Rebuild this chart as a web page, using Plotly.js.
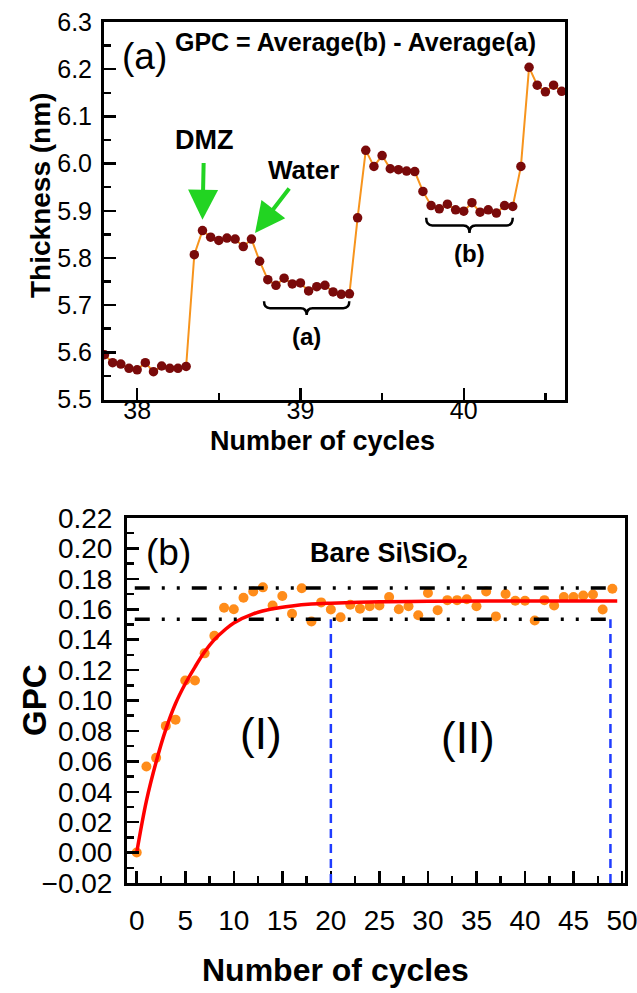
<!DOCTYPE html>
<html>
<head>
<meta charset="utf-8">
<script src="https://cdn.plot.ly/plotly-3.0.1.min.js"></script>
<style>
html,body{margin:0;padding:0;background:#fff;}
#chart{width:637px;height:993px;}
</style>
</head>
<body>
<div id="chart"></div>
<script>
// ---------- Panel (a): thickness vs number of cycles ----------
const cyclesA = [37.80, 37.85, 37.90, 37.95, 38.00, 38.05, 38.10, 38.15, 38.20, 38.25,
  38.30, 38.35, 38.40, 38.45, 38.50, 38.55, 38.60, 38.65, 38.70, 38.75,
  38.80, 38.85, 38.90, 38.95, 39.00, 39.05, 39.10, 39.15, 39.20, 39.25,
  39.30, 39.35, 39.40, 39.45, 39.50, 39.55, 39.60, 39.65, 39.70, 39.75,
  39.80, 39.85, 39.90, 39.95, 40.00, 40.05, 40.10, 40.15, 40.20, 40.25,
  40.30, 40.35, 40.40, 40.45, 40.50, 40.55, 40.60];
const thicknessA = [5.595, 5.578, 5.575, 5.566, 5.563, 5.578, 5.559, 5.571, 5.566, 5.566,
  5.570, 5.807, 5.858, 5.844, 5.837, 5.842, 5.840, 5.824, 5.840, 5.793,
  5.754, 5.742, 5.757, 5.745, 5.747, 5.730, 5.739, 5.742, 5.728, 5.723,
  5.724, 5.885, 6.028, 5.994, 6.017, 5.989, 5.987, 5.984, 5.983, 5.941,
  5.911, 5.904, 5.914, 5.902, 5.899, 5.917, 5.897, 5.902, 5.895, 5.911,
  5.909, 5.994, 6.204, 6.166, 6.152, 6.166, 6.153];
const xTicksA = [38, 39, 40];
const yTicksA = [5.5, 5.6, 5.7, 5.8, 5.9, 6.0, 6.1, 6.2, 6.3];
// arrows: [tipX, tipY, labelX, labelY]
const dmzArrow = [38.40, 5.881, 38.41, 6.049];
const waterArrow = [38.722, 5.853, 39.02, 5.987];
// braces: [x left, x right], [y ends, y tip]
const braceAx = [38.777, 39.299], braceAy = [5.708, 5.679];
const braceBx = [39.77, 40.30], braceBy = [5.885, 5.853];

// ---------- Panel (b): GPC vs number of cycles ----------
const cyclesB = [0,1,2,3,4,5,6,7,8,9,10,11,12,13,14,15,16,17,18,19,20,21,22,23,24,
  25,26,27,28,29,30,31,32,33,34,35,36,37,38,39,40,41,42,43,44,45,46,47,48,49];
const gpcB = [0.000, 0.0566, 0.0623, 0.0833, 0.0874, 0.1131, 0.1131, 0.131, 0.1425, 0.161,
  0.160, 0.1676, 0.1717, 0.1744, 0.1625, 0.1687, 0.157, 0.1738, 0.152, 0.1645,
  0.1598, 0.1547, 0.163, 0.1604, 0.162, 0.1625, 0.168, 0.160, 0.162, 0.156,
  0.1707, 0.1594, 0.166, 0.166, 0.1666, 0.162, 0.1717, 0.1553, 0.170, 0.1656,
  0.1656, 0.1526, 0.166, 0.1625, 0.168, 0.168, 0.169, 0.1697, 0.1598, 0.1735];
const fitCycles = [0, 1, 2, 3, 4, 5, 6, 7, 8, 9, 10, 12, 14, 16, 18, 20, 25, 30, 40, 49.5];
const fitGpc = [0, 0.034, 0.0596, 0.081, 0.098, 0.111, 0.122, 0.132, 0.140, 0.146,
  0.151, 0.157, 0.1603, 0.1622, 0.1634, 0.164, 0.165, 0.1652, 0.1655, 0.1655];
const bandLimits = [0.174, 0.1535];      // dash-dot limits
const bandSpan = [-0.2, 48.9];
const regionBounds = [20, 48.8];         // blue dashed dividers
const yTicksB = [-0.02, 0.00, 0.02, 0.04, 0.06, 0.08, 0.10, 0.12, 0.14, 0.16, 0.18, 0.20, 0.22];
const xTicksB = [0, 5, 10, 15, 20, 25, 30, 35, 40, 45, 50];

const FONT = "Arial, 'Liberation Sans', sans-serif";

function bracePath(xs, ys) {
  const x0 = xs[0], x1 = xs[1], xm = (x0 + x1) / 2;
  const yTop = ys[0], yTip = ys[1];
  const yMid = yTop - (yTop - yTip) * 0.5;
  const d = (x1 - x0) * 0.07;
  return `M ${x0},${yTop} Q ${x0},${yMid} ${x0 + d},${yMid} L ${xm - d},${yMid} ` +
         `Q ${xm},${yMid} ${xm},${yTip} Q ${xm},${yMid} ${xm + d},${yMid} ` +
         `L ${x1 - d},${yMid} Q ${x1},${yMid} ${x1},${yTop}`;
}

const traces = [
  {
    x: cyclesA, y: thicknessA, xaxis: 'x', yaxis: 'y',
    mode: 'lines+markers', type: 'scatter',
    line: {color: '#F7941D', width: 2},
    marker: {color: '#7A0A0A', size: 9.5},
    cliponaxis: true, hoverinfo: 'skip'
  },
  {
    x: cyclesB, y: gpcB, xaxis: 'x2', yaxis: 'y2',
    mode: 'markers', type: 'scatter',
    marker: {color: '#FF8C1A', size: 10},
    hoverinfo: 'skip'
  },
  {
    x: fitCycles, y: fitGpc, xaxis: 'x2', yaxis: 'y2',
    mode: 'lines', type: 'scatter',
    line: {color: '#FF0000', width: 3.5, shape: 'spline', smoothing: 1},
    hoverinfo: 'skip'
  }
];

const axisCommon = {
  showline: true, linecolor: '#000', linewidth: 3, mirror: true,
  ticks: 'inside', tickcolor: '#000', tickwidth: 2.5, ticklen: 12,
  showgrid: false, zeroline: false, ticklabeloverflow: 'allow',
  tickfont: {family: FONT, size: 25, color: '#000'}
};

const layout = {
  width: 637, height: 993,
  margin: {l: 0, r: 0, t: 0, b: 0},
  paper_bgcolor: '#fff', plot_bgcolor: '#fff',
  showlegend: false,
  font: {family: FONT, color: '#000'},
  xaxis: Object.assign({}, axisCommon, {
    domain: [104/637, 565/637], anchor: 'y',
    range: [37.797, 40.62], tickvals: xTicksA, ticktext: xTicksA.map(String),
    minor: {ticks: 'inside', dtick: 0.5, tick0: 38, ticklen: 7, tickwidth: 2.5, tickcolor: '#000'},
    ticklabelstandoff: -14
  }),
  yaxis: Object.assign({}, axisCommon, {
    domain: [1 - 399.5/993, 1 - 22/993], anchor: 'x',
    range: [5.5, 6.3], tickvals: yTicksA, ticktext: yTicksA.map(v => v.toFixed(1)),
    minor: {ticks: 'inside', dtick: 0.05, tick0: 5.5, ticklen: 7, tickwidth: 2.5, tickcolor: '#000'},
    ticklabelstandoff: 4
  }),
  xaxis2: Object.assign({}, axisCommon, {
    domain: [127/637, 625/637], anchor: 'y2',
    range: [-1.0, 50.3], tickvals: xTicksB, ticktext: xTicksB.map(String),
    minor: {ticks: 'inside', dtick: 2.5, tick0: 0, ticklen: 7, tickwidth: 2.5, tickcolor: '#000'},
    tickfont: {family: FONT, size: 28, color: '#000'},
    ticklabelstandoff: 10
  }),
  yaxis2: Object.assign({}, axisCommon, {
    domain: [1 - 883/993, 1 - 518/993], anchor: 'x2',
    range: [-0.02, 0.22], tickvals: yTicksB, ticktext: yTicksB.map(v => v < 0 ? '\u2212' + Math.abs(v).toFixed(2) : v.toFixed(2)),
    minor: {ticks: 'inside', dtick: 0.01, tick0: 0, ticklen: 7, tickwidth: 2.5, tickcolor: '#000'},
    tickfont: {family: FONT, size: 28, color: '#000'},
    ticklabelstandoff: 6
  }),
  shapes: [
    {type: 'path', xref: 'x', yref: 'y', path: bracePath(braceAx, braceAy), line: {color: '#000', width: 2.5}},
    {type: 'path', xref: 'x', yref: 'y', path: bracePath(braceBx, braceBy), line: {color: '#000', width: 2.5}},
    ...bandLimits.map(v => ({type: 'line', xref: 'x2', yref: 'y2', x0: bandSpan[0], x1: bandSpan[1], y0: v, y1: v,
      line: {color: '#000', width: 3.5, dash: '15px,12px,3px,12px,3px,12px'}})),
    ...regionBounds.map(v => ({type: 'line', xref: 'x2', yref: 'y2', x0: v, x1: v, y0: -0.02, y1: bandLimits[1],
      line: {color: '#1F3CFF', width: 2.5, dash: '9px,6px'}}))
  ],
  annotations: [
    // axis titles
    {xref: 'paper', yref: 'paper', x: 322/637, y: 1 - 441/993, xanchor: 'center', yanchor: 'middle',
      text: '<b>Number of cycles</b>', showarrow: false, font: {family: FONT, size: 27}},
    {xref: 'paper', yref: 'paper', x: 40/637, y: 1 - 196/993, xanchor: 'center', yanchor: 'middle',
      text: '<b>Thickness (nm)</b>', textangle: -90, showarrow: false, font: {family: FONT, size: 28}},
    {xref: 'paper', yref: 'paper', x: 335/637, y: 1 - 970/993, xanchor: 'center', yanchor: 'middle',
      text: '<b>Number of cycles</b>', showarrow: false, font: {family: FONT, size: 32}},
    {xref: 'paper', yref: 'paper', x: 34/637, y: 1 - 700/993, xanchor: 'center', yanchor: 'middle',
      text: '<b>GPC</b>', textangle: -90, showarrow: false, font: {family: FONT, size: 33}},
    // panel (a) labels
    {xref: 'x', yref: 'y', x: 38.042, y: 6.227, text: '(a)', showarrow: false, font: {family: FONT, size: 37}},
    {xref: 'x', yref: 'y', x: 39.34, y: 6.257, text: '<b>GPC = Average(b) - Average(a)</b>', showarrow: false, font: {family: FONT, size: 25}},
    {xref: 'x', yref: 'y', axref: 'x', ayref: 'y', x: dmzArrow[0], y: dmzArrow[1], ax: dmzArrow[2], ay: dmzArrow[3],
      text: '<b>DMZ</b>', font: {family: FONT, size: 27}, showarrow: true, startstandoff: 6,
      arrowhead: 2, arrowsize: 1.5, arrowwidth: 4, arrowcolor: '#22D422'},
    {xref: 'x', yref: 'y', axref: 'x', ayref: 'y', x: waterArrow[0], y: waterArrow[1], ax: waterArrow[2], ay: waterArrow[3],
      text: '<b>Water</b>', font: {family: FONT, size: 26}, showarrow: true, startstandoff: 3,
      arrowhead: 2, arrowsize: 1.5, arrowwidth: 4, arrowcolor: '#22D422'},
    {xref: 'x', yref: 'y', x: (braceAx[0] + braceAx[1]) / 2, y: 5.633, text: '<b>(a)</b>', showarrow: false, font: {family: FONT, size: 24}},
    {xref: 'x', yref: 'y', x: (braceBx[0] + braceBx[1]) / 2, y: 5.81, text: '<b>(b)</b>', showarrow: false, font: {family: FONT, size: 24}},
    // panel (b) labels
    {xref: 'x2', yref: 'y2', x: 3.3, y: 0.197, text: '(b)', showarrow: false, font: {family: FONT, size: 37}},
    {xref: 'x2', yref: 'y2', x: 26.0, y: 0.196, text: '<b>Bare Si\\SiO<sub>2</sub></b>', showarrow: false, font: {family: FONT, size: 27}},
    {xref: 'x2', yref: 'y2', x: 12.8, y: 0.078, text: '(I)', showarrow: false, font: {family: FONT, size: 44}},
    {xref: 'x2', yref: 'y2', x: 34.1, y: 0.076, text: '(II)', showarrow: false, font: {family: FONT, size: 44}}
  ]
};

Plotly.newPlot('chart', traces, layout, {staticPlot: true, displayModeBar: false});
</script>
</body>
</html>
